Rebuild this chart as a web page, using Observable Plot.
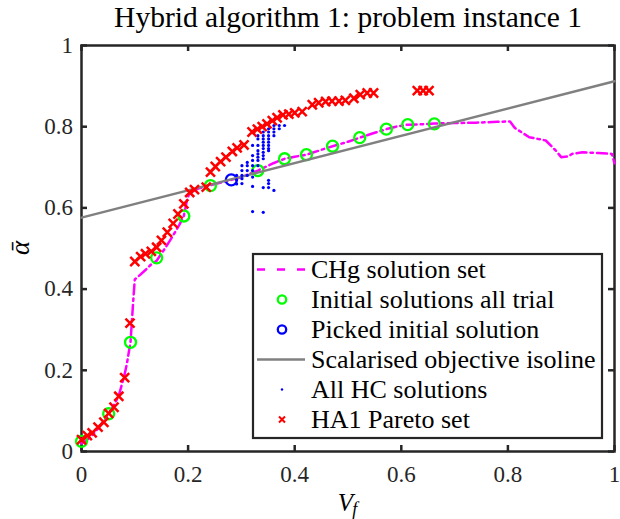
<!DOCTYPE html>
<html><head><meta charset="utf-8">
<script src="https://cdn.jsdelivr.net/npm/d3@7"></script>
<script src="https://cdn.jsdelivr.net/npm/@observablehq/plot@0.6"></script>
<style>
body{margin:0;background:#fff;}
#chart{width:620px;height:519px;}
</style></head><body><div id="chart"></div>
<script>
const titleText = "Hybrid algorithm 1: problem instance 1";
const xTicks = [0, 0.2, 0.4, 0.6, 0.8, 1];
const yTicks = [0, 0.2, 0.4, 0.6, 0.8, 1];

// CHg solution set
const chgV = [0, 0.01, 0.02, 0.03, 0.04, 0.051, 0.06, 0.07, 0.08, 0.085, 0.092, 0.095, 0.097, 0.1,
  0.11, 0.12, 0.13, 0.141, 0.158, 0.17, 0.183, 0.192, 0.198, 0.203, 0.22, 0.242, 0.281, 0.3, 0.331,
  0.36, 0.381, 0.4, 0.422, 0.45, 0.471, 0.5, 0.522, 0.55, 0.572, 0.59, 0.612, 0.64, 0.662, 0.7,
  0.74, 0.78, 0.804, 0.813, 0.84, 0.871, 0.89, 0.9, 0.914, 0.92, 0.94, 0.97, 0.995, 1.0];
const chgA = [0.02, 0.028, 0.04, 0.055, 0.072, 0.093, 0.112, 0.138, 0.185, 0.215, 0.27, 0.33, 0.37, 0.424,
  0.435, 0.447, 0.46, 0.47, 0.503, 0.528, 0.557, 0.58, 0.62, 0.638, 0.648, 0.656, 0.669, 0.676, 0.692,
  0.71, 0.721, 0.726, 0.731, 0.743, 0.752, 0.763, 0.773, 0.785, 0.794, 0.8, 0.805, 0.806, 0.808, 0.809,
  0.81, 0.812, 0.813, 0.797, 0.774, 0.766, 0.741, 0.725, 0.727, 0.733, 0.737, 0.735, 0.733, 0.71];

// Initial solutions all trial
const initV = [0, 0.051, 0.092, 0.141, 0.192, 0.242, 0.331, 0.381, 0.422, 0.471, 0.522, 0.572, 0.612, 0.662];
const initA = [0.025, 0.093, 0.269, 0.477, 0.58, 0.655, 0.692, 0.721, 0.731, 0.752, 0.773, 0.794, 0.805, 0.807];

// Picked initial solution
const pickedV = [0.281];
const pickedA = [0.669];

// Scalarised objective isoline
const isoV = [0, 1];
const isoA = [0.576, 0.912];

// All HC solutions
const hcV = [
  0.291, 0.291, 0.291,
  0.301, 0.301, 0.301, 0.301, 0.301,
  0.311, 0.311, 0.311, 0.311,
  0.321, 0.321, 0.321, 0.321, 0.321, 0.321, 0.321, 0.321,
  0.331, 0.331, 0.331, 0.331, 0.331, 0.331, 0.331, 0.331,
  0.341, 0.341, 0.341, 0.341, 0.341, 0.341, 0.341, 0.341, 0.341, 0.341, 0.341,
  0.351, 0.351, 0.351, 0.351, 0.351, 0.351, 0.351, 0.351, 0.351, 0.351, 0.351,
  0.361, 0.361, 0.361, 0.361, 0.361,
  0.371, 0.371,
  0.381];
const hcA = [
  0.669, 0.659, 0.68,
  0.704, 0.692, 0.68, 0.672, 0.66,
  0.712, 0.704, 0.692, 0.68,
  0.754, 0.729, 0.717, 0.704, 0.692, 0.676, 0.653, 0.591,
  0.778, 0.77, 0.754, 0.741, 0.733, 0.725, 0.717, 0.704,
  0.787, 0.778, 0.77, 0.762, 0.754, 0.746, 0.737, 0.729, 0.721, 0.65, 0.589,
  0.795, 0.787, 0.778, 0.77, 0.762, 0.754, 0.746, 0.741, 0.668, 0.66, 0.65,
  0.803, 0.795, 0.787, 0.778, 0.643,
  0.803, 0.795,
  0.803];

// HA1 Pareto set
const paretoV = [0, 0.011, 0.02, 0.031, 0.042, 0.051, 0.061, 0.07, 0.081, 0.091,
  0.1, 0.111, 0.12, 0.131, 0.141, 0.15, 0.161, 0.172, 0.181, 0.192, 0.203, 0.212, 0.234,
  0.242, 0.251, 0.261, 0.271, 0.283, 0.292, 0.305,
  0.32, 0.33, 0.339, 0.348, 0.358, 0.367, 0.378, 0.389, 0.4, 0.414,
  0.433, 0.445, 0.458, 0.47, 0.483, 0.495, 0.511, 0.523, 0.536, 0.548,
  0.63, 0.641, 0.652];
const paretoA = [0.029, 0.039, 0.046, 0.06, 0.072, 0.094, 0.109, 0.136, 0.182, 0.316,
  0.468, 0.48, 0.487, 0.493, 0.503, 0.52, 0.54, 0.562, 0.585, 0.61, 0.638, 0.645, 0.651,
  0.688, 0.702, 0.714, 0.725, 0.739, 0.748, 0.755,
  0.787, 0.794, 0.8, 0.807, 0.815, 0.822, 0.829, 0.831, 0.834, 0.837,
  0.854, 0.859, 0.862, 0.863, 0.863, 0.865, 0.87, 0.879, 0.883, 0.883,
  0.889, 0.889, 0.889];

const legendLabels = ["CHg solution set", "Initial solutions all trial", "Picked initial solution",
  "Scalarised objective isoline", "All HC solutions", "HA1 Pareto set"];

const zip = (xs, ys) => xs.map((x, i) => ({x, y: ys[i]}));
const chg = zip(chgV, chgA), init = zip(initV, initA), picked = zip(pickedV, pickedA);
const iso = zip(isoV, isoA), hc = zip(hcV, hcA), pareto = zip(paretoV, paretoA);

const AX = "#262626";
const FONT = "Liberation Serif";
const fmt = d => `${d}`;

const svg = Plot.plot({
  width: 620, height: 519,
  marginLeft: 81, marginRight: 6, marginTop: 45, marginBottom: 68,
  style: {fontFamily: FONT, color: AX, background: "white", overflow: "visible"},
  x: {domain: [0, 1], label: null},
  y: {domain: [0, 1], label: null},
  marks: [
    Plot.frame({stroke: AX, strokeWidth: 2.5}),
    Plot.ruleX(xTicks, {x: d => d, insetTop: 400, stroke: AX, strokeWidth: 2.5}),
    Plot.ruleX(xTicks, {x: d => d, insetBottom: 400, stroke: AX, strokeWidth: 2.5}),
    Plot.ruleY(yTicks, {y: d => d, insetRight: 527, stroke: AX, strokeWidth: 2.5}),
    Plot.ruleY(yTicks, {y: d => d, insetLeft: 527, stroke: AX, strokeWidth: 2.5}),
    Plot.axisX(xTicks, {tickSize: 0, tickPadding: 14, fontSize: 23, fill: AX, label: null, tickFormat: fmt}),
    Plot.axisY(yTicks, {tickSize: 0, tickPadding: 8.5, fontSize: 23, fill: AX, label: null, tickFormat: fmt}),
    Plot.text([titleText], {frameAnchor: "top", dy: -19, lineAnchor: "bottom", fontSize: 29.5, fill: "#000"}),
    Plot.line(chg, {x: "x", y: "y", stroke: "#ff00ff", strokeWidth: 2.5, strokeDasharray: "10,4,2.5,4"}),
    Plot.dot(init, {x: "x", y: "y", r: 5.5, stroke: "#00ff00", strokeWidth: 2.3, fill: "none"}),
    Plot.dot(picked, {x: "x", y: "y", r: 5.5, stroke: "#0000ff", strokeWidth: 2.3, fill: "none"}),
    Plot.line(iso, {x: "x", y: "y", stroke: "#808080", strokeWidth: 2.5}),
    Plot.dot(hc, {x: "x", y: "y", r: 1.6, fill: "#0000ff", stroke: "none"}),
    Plot.dot(pareto, {x: "x", y: "y", symbol: "times", r: 4.2, stroke: "#ff0000", strokeWidth: 2.5})
  ]
});
document.getElementById("chart").appendChild(svg);

const s = d3.select(svg);
// x label V_f
const xl = s.append("text").attr("x", 347.5).attr("y", 511).attr("text-anchor", "middle")
  .attr("font-family", FONT).attr("font-style", "italic").attr("fill", "#000");
xl.append("tspan").attr("font-size", 25).text("V");
xl.append("tspan").attr("font-size", 18).attr("dy", 4).attr("dx", -1).text("f");
// y label alpha bar
s.append("text").attr("transform", "translate(29,248) rotate(-90)").attr("text-anchor", "middle")
  .attr("font-family", FONT).attr("font-style", "italic").attr("font-size", 27).attr("fill", "#000").text("ᾱ");

// legend
const lg = s.append("g").attr("text-anchor", "start");
lg.append("rect").attr("x", 253).attr("y", 254).attr("width", 349).attr("height", 184)
  .attr("fill", "white").attr("stroke", AX).attr("stroke-width", 2.2);
legendLabels.forEach((lab, i) => {
  const cy = 269.5 + i * 30;
  lg.append("text").attr("x", 311).attr("y", cy + 8).attr("text-anchor", "start").attr("font-family", FONT)
    .attr("font-size", 26).attr("fill", "#000").text(lab);
  if (i === 0) lg.append("line").attr("x1", 257).attr("x2", 305).attr("y1", cy).attr("y2", cy)
    .attr("stroke", "#ff00ff").attr("stroke-width", 2.5).attr("stroke-dasharray", "8,12");
  if (i === 1 || i === 2) lg.append("circle").attr("cx", 282).attr("cy", cy).attr("r", 4.2)
    .attr("fill", "none").attr("stroke", i === 1 ? "#00ff00" : "#0000ff").attr("stroke-width", 2.3);
  if (i === 3) lg.append("line").attr("x1", 257).attr("x2", 305).attr("y1", cy).attr("y2", cy)
    .attr("stroke", "#808080").attr("stroke-width", 2.5);
  if (i === 4) lg.append("circle").attr("cx", 282).attr("cy", cy).attr("r", 1.2).attr("fill", "#0000ff");
  if (i === 5) lg.append("path").attr("d", `M279,${cy-3}L285,${cy+3}M279,${cy+3}L285,${cy-3}`)
    .attr("stroke", "#ff0000").attr("stroke-width", 2);
});
</script>
</body></html>
